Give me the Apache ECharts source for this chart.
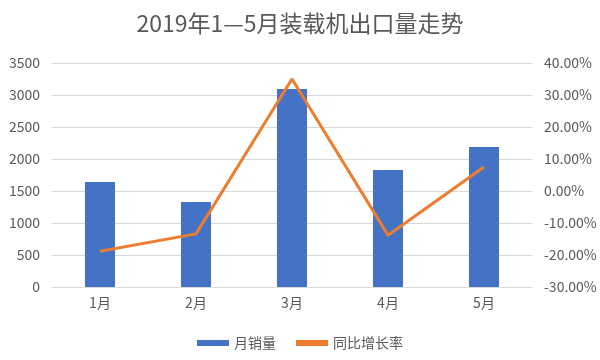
<!DOCTYPE html>
<html><head><meta charset="utf-8">
<script src="https://cdn.jsdelivr.net/npm/echarts@6/dist/echarts.min.js"></script>
<style>html,body{margin:0;padding:0;background:#fff}#c{width:600px;height:360px}</style>
</head><body><div id="c"></div>
<script>
var categories = ['1月','2月','3月','4月','5月'];
var sales = [1640, 1330, 3094, 1830, 2187];
var growth = [-18.8, -13.4, 35.0, -13.8, 7.5];
var chart = echarts.init(document.getElementById('c'));
var font = '"Noto Sans CJK SC", sans-serif';
chart.setOption({
  animation: false,
  title: {text: '2019年1—5月装载机出口量走势', left: 'center', top: 7,
    textStyle: {fontSize: 23, fontWeight: 'normal', color: '#595959', fontFamily: font}},
  legend: {bottom: 5, left: 'center', itemGap: 20, itemWidth: 32, itemHeight: 6,
    textStyle: {fontSize: 14, color: '#595959', fontFamily: font},
    data: [{name: '月销量', icon: 'rect'}, {name: '同比增长率', icon: 'rect'}]},
  grid: {left: 52, right: 68, top: 63, bottom: 73},
  xAxis: {type: 'category', data: categories,
    axisLine: {lineStyle: {color: '#d9d9d9'}}, axisTick: {show: false},
    axisLabel: {color: '#595959', fontSize: 14, fontFamily: font, margin: 9}},
  yAxis: [
    {type: 'value', min: 0, max: 3500, interval: 500,
      axisLine: {show: false}, axisTick: {show: false},
      splitLine: {lineStyle: {color: '#d9d9d9'}},
      axisLabel: {color: '#595959', fontSize: 14, fontFamily: font, margin: 12,
        formatter: function(v){return String(v);}}},
    {type: 'value', min: -30, max: 40, interval: 10,
      axisLine: {show: false}, axisTick: {show: false}, splitLine: {show: false},
      axisLabel: {color: '#595959', fontSize: 14, fontFamily: font, margin: 12,
        formatter: function(v){return v.toFixed(2) + '%';}}}
  ],
  series: [
    {name: '月销量', type: 'bar', data: sales, barWidth: 30, itemStyle: {color: '#4472C4'}},
    {name: '同比增长率', type: 'line', yAxisIndex: 1, data: growth, symbol: 'none',
      lineStyle: {color: '#ED7D31', width: 3}, itemStyle: {color: '#ED7D31'}}
  ]
});
</script></body></html>
